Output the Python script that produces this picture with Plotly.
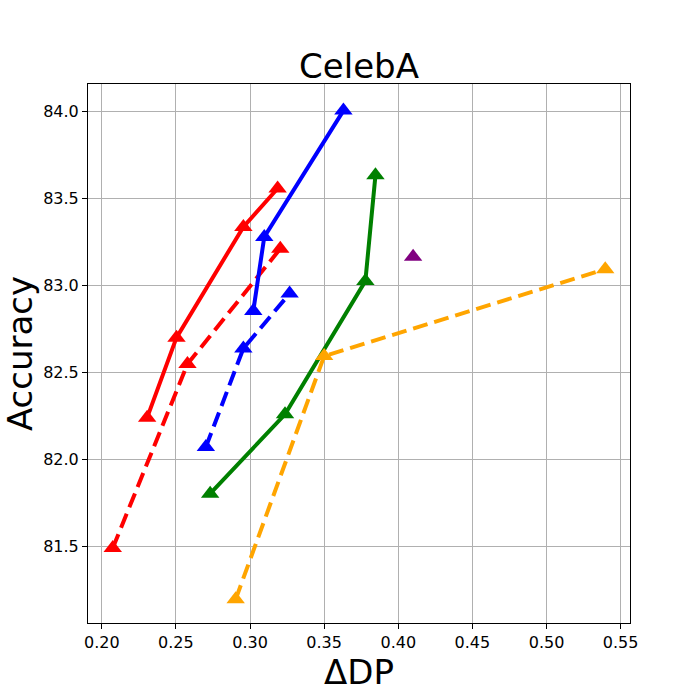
import plotly.graph_objects as go

# red solid / red dashed
red_x = [0.2306, 0.2504, 0.2955, 0.3186]
red_y = [82.24, 82.70, 83.337, 83.558]
red_dash_x = [0.2074, 0.2578, 0.3204]
red_dash_y = [81.49, 82.548, 83.212]

# blue solid / blue dashed
blue_x = [0.3022, 0.3096, 0.3630]
blue_y = [82.854, 83.279, 84.006]
blue_dash_x = [0.2702, 0.2955, 0.3267]
blue_dash_y = [82.071, 82.638, 82.954]

# green solid
green_x = [0.2731, 0.3236, 0.3778, 0.3846]
green_y = [81.803, 82.259, 83.026, 83.634]

# orange dashed
orange_x = [0.2903, 0.3500, 0.5396]
orange_y = [81.195, 82.594, 83.094]

# single purple point
purple_x = [0.410]
purple_y = [83.165]

xticks = [0.20, 0.25, 0.30, 0.35, 0.40, 0.45, 0.50, 0.55]
yticks = [81.5, 82.0, 82.5, 83.0, 83.5, 84.0]

dash = "15px,7px"

series = [
    (red_x, red_y, "red", "solid"),
    (red_dash_x, red_dash_y, "red", dash),
    (blue_x, blue_y, "blue", "solid"),
    (blue_dash_x, blue_dash_y, "blue", dash),
    (green_x, green_y, "green", "solid"),
    (orange_x, orange_y, "orange", dash),
]

fig = go.Figure()
for xs, ys, col, d in series:
    fig.add_trace(go.Scatter(
        x=xs, y=ys, mode="lines+markers",
        line=dict(color=col, width=4, dash=d),
        marker=dict(symbol="triangle-up", size=16, color=col),
        showlegend=False))

fig.add_trace(go.Scatter(
    x=purple_x, y=purple_y, mode="markers",
    marker=dict(symbol="triangle-up", size=16, color="purple"),
    showlegend=False))

axis_style = dict(
    showgrid=True, gridcolor="#b0b0b0", gridwidth=1.1,
    showline=True, linecolor="black", linewidth=1.1, mirror=True,
    ticks="outside", ticklen=5, tickcolor="black", tickwidth=1.1,
    tickfont=dict(family="DejaVu Sans", size=16, color="black"),
    zeroline=False, automargin=False,
)

fig.update_layout(
    width=700, height=700,
    paper_bgcolor="white", plot_bgcolor="white",
    margin=dict(l=88, r=70, t=84, b=77),
    font=dict(family="DejaVu Sans", color="black"),
    title=dict(text="CelebA", x=0.5, xanchor="center", xref="paper",
               y=1.0, yref="paper", yanchor="bottom",
               pad=dict(b=6), font=dict(size=34, color="black")),
    xaxis=dict(axis_style, range=[0.1907, 0.5563], tickvals=xticks,
               tickformat=".2f",
               title=dict(text="ΔDP", font=dict(size=34), standoff=4)),
    yaxis=dict(axis_style, range=[81.059, 84.159], tickvals=yticks,
               tickformat=".1f",
               title=dict(text="Accuracy", font=dict(size=34), standoff=27)),
)

# drop the browser's default 8px body margin
fig.write_html("out.html", config={"displayModeBar": False},
               post_script="document.body.style.margin='0px';")
